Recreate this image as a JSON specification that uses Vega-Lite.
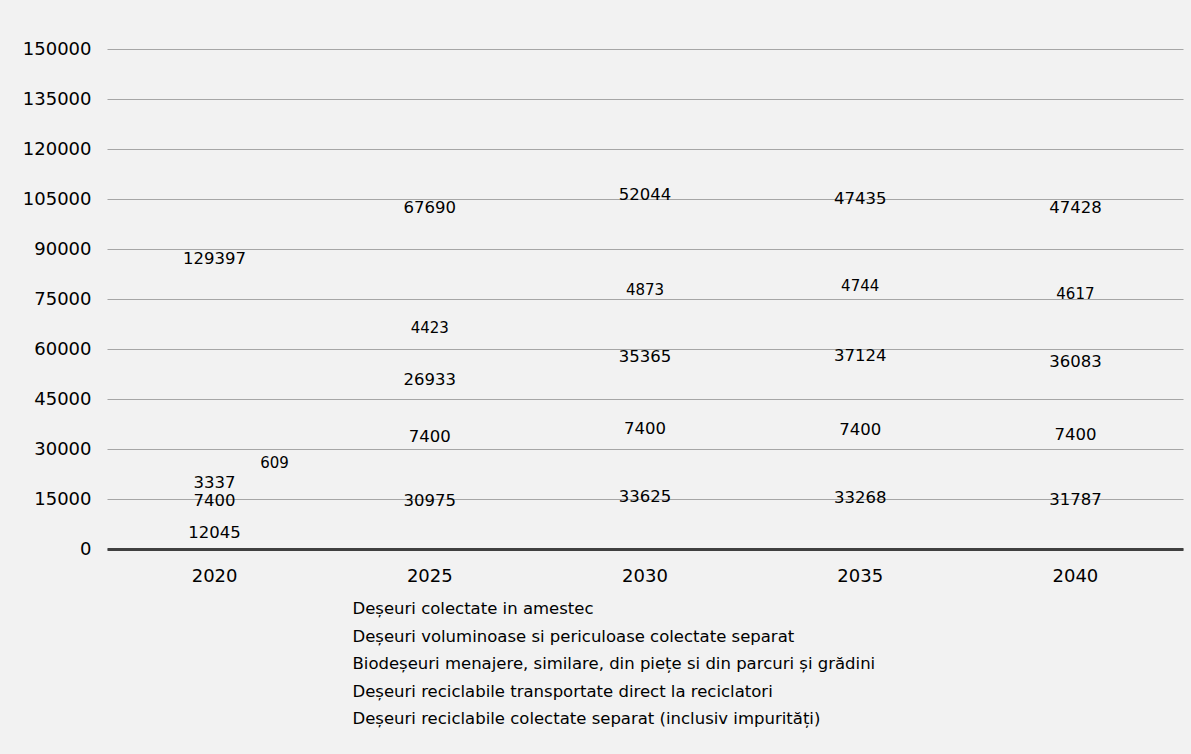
{
 "$schema": "https://vega.github.io/schema/vega-lite/v6.json",
 "width": 1076, "height": 500,
 "autosize": {"type": "none"},
 "padding": {"left": 107, "top": 49, "right": 8, "bottom": 205},
 "background": "#f2f2f2",
 "config": {"view": {"stroke": null}, "font": "DejaVu Sans"},
 "data": {"values": [
  {"year": "2020", "cat": "Deșeuri reciclabile colectate separat (inclusiv impurități)", "value": 12045},
  {"year": "2020", "cat": "Deșeuri reciclabile transportate direct la reciclatori", "value": 7400},
  {"year": "2020", "cat": "Biodeșeuri menajere, similare, din piețe si din parcuri și grădini", "value": 3337},
  {"year": "2020", "cat": "Deșeuri voluminoase si periculoase colectate separat", "value": 609},
  {"year": "2020", "cat": "Deșeuri colectate in amestec", "value": 129397},
  {"year": "2025", "cat": "Deșeuri reciclabile colectate separat (inclusiv impurități)", "value": 30975},
  {"year": "2025", "cat": "Deșeuri reciclabile transportate direct la reciclatori", "value": 7400},
  {"year": "2025", "cat": "Biodeșeuri menajere, similare, din piețe si din parcuri și grădini", "value": 26933},
  {"year": "2025", "cat": "Deșeuri voluminoase si periculoase colectate separat", "value": 4423},
  {"year": "2025", "cat": "Deșeuri colectate in amestec", "value": 67690},
  {"year": "2030", "cat": "Deșeuri reciclabile colectate separat (inclusiv impurități)", "value": 33625},
  {"year": "2030", "cat": "Deșeuri reciclabile transportate direct la reciclatori", "value": 7400},
  {"year": "2030", "cat": "Biodeșeuri menajere, similare, din piețe si din parcuri și grădini", "value": 35365},
  {"year": "2030", "cat": "Deșeuri voluminoase si periculoase colectate separat", "value": 4873},
  {"year": "2030", "cat": "Deșeuri colectate in amestec", "value": 52044},
  {"year": "2035", "cat": "Deșeuri reciclabile colectate separat (inclusiv impurități)", "value": 33268},
  {"year": "2035", "cat": "Deșeuri reciclabile transportate direct la reciclatori", "value": 7400},
  {"year": "2035", "cat": "Biodeșeuri menajere, similare, din piețe si din parcuri și grădini", "value": 37124},
  {"year": "2035", "cat": "Deșeuri voluminoase si periculoase colectate separat", "value": 4744},
  {"year": "2035", "cat": "Deșeuri colectate in amestec", "value": 47435},
  {"year": "2040", "cat": "Deșeuri reciclabile colectate separat (inclusiv impurități)", "value": 31787},
  {"year": "2040", "cat": "Deșeuri reciclabile transportate direct la reciclatori", "value": 7400},
  {"year": "2040", "cat": "Biodeșeuri menajere, similare, din piețe si din parcuri și grădini", "value": 36083},
  {"year": "2040", "cat": "Deșeuri voluminoase si periculoase colectate separat", "value": 4617},
  {"year": "2040", "cat": "Deșeuri colectate in amestec", "value": 47428}
 ]},
 "transform": [
  {"calculate": "indexof(['Deșeuri reciclabile colectate separat (inclusiv impurități)','Deșeuri reciclabile transportate direct la reciclatori','Biodeșeuri menajere, similare, din piețe si din parcuri și grădini','Deșeuri voluminoase si periculoase colectate separat','Deșeuri colectate in amestec'], datum.cat)", "as": "ord"},
  {"stack": "value", "groupby": ["year"], "sort": [{"field": "ord", "order": "ascending"}], "as": ["v0", "v1"]},
  {"calculate": "(datum.v0 + datum.v1) / 2", "as": "mid"}
 ],
 "encoding": {
  "x": {"field": "year", "type": "ordinal", "scale": {"paddingInner": 0, "paddingOuter": 0},
   "axis": {"title": null, "labelAngle": 0, "ticks": false, "domainColor": "#404040", "domainWidth": 3, "labelFontSize": 18, "labelPadding": 18, "labelColor": "#000000", "labelFont": "DejaVu Sans"}}
 },
 "layer": [
  {"mark": {"type": "bar", "opacity": 0},
   "encoding": {
    "y": {"field": "v0", "type": "quantitative", "scale": {"domain": [0, 150000], "nice": false},
     "axis": {"title": null, "values": [0, 15000, 30000, 45000, 60000, 75000, 90000, 105000, 120000, 135000, 150000], "format": "d", "ticks": false, "domain": false, "gridColor": "#a6a6a6", "gridWidth": 1, "labelFontSize": 18, "labelPadding": 16, "labelColor": "#000000", "labelFont": "DejaVu Sans"}},
    "y2": {"field": "v1"},
    "color": {"field": "cat", "type": "nominal",
     "scale": {"domain": ["Deșeuri colectate in amestec", "Deșeuri voluminoase si periculoase colectate separat", "Biodeșeuri menajere, similare, din piețe si din parcuri și grădini", "Deșeuri reciclabile transportate direct la reciclatori", "Deșeuri reciclabile colectate separat (inclusiv impurități)"]},
     "legend": {"title": null, "orient": "none", "legendX": 229, "legendY": 552, "direction": "vertical", "symbolOpacity": 0, "symbolSize": 0, "symbolStrokeWidth": 0, "labelFontSize": 16.5, "labelColor": "#000000", "labelFont": "DejaVu Sans", "rowPadding": 10.5, "labelOffset": 0, "labelLimit": 0}}
   }},
  {"transform": [{"filter": "!(datum.year === '2020' && datum.ord === 3)"}],
   "mark": {"type": "text", "baseline": "middle", "color": "#000000", "font": "DejaVu Sans", "dy": 4},
   "encoding": {
    "y": {"field": "mid", "type": "quantitative"},
    "text": {"field": "value", "type": "quantitative", "format": "d"},
    "size": {"condition": {"test": "datum.ord === 3", "value": 15}, "value": 16.5}
   }},
  {"transform": [{"filter": "datum.year === '2020' && datum.ord === 3"}],
   "mark": {"type": "text", "baseline": "middle", "color": "#000000", "font": "DejaVu Sans", "dx": 60, "dy": -9, "fontSize": 15},
   "encoding": {
    "y": {"field": "mid", "type": "quantitative"},
    "text": {"field": "value", "type": "quantitative", "format": "d"}
   }}
 ]
}
